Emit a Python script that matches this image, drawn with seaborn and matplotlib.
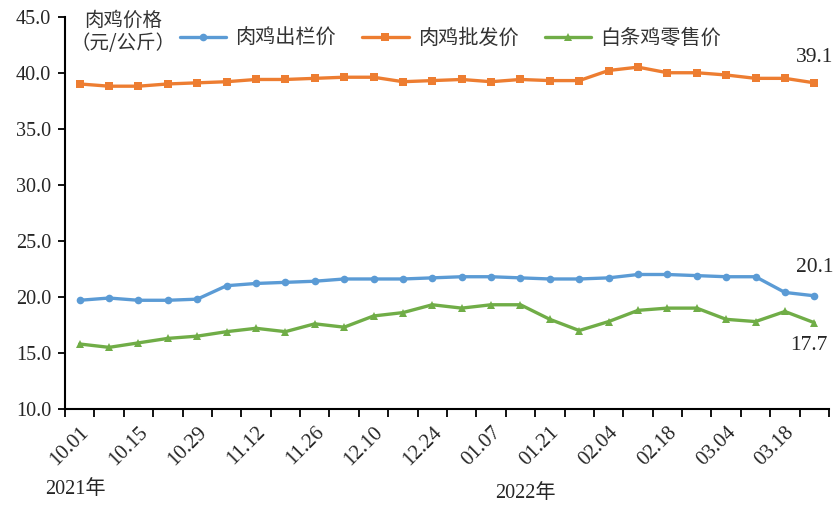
import matplotlib
matplotlib.use("Agg")
import matplotlib.pyplot as plt
import seaborn as sns
import numpy as np
import pandas as pd

dates = ["10.01", "10.08", "10.15", "10.22", "10.29", "11.05", "11.12", "11.19",
         "11.26", "12.03", "12.10", "12.17", "12.24", "12.31", "01.07", "01.14",
         "01.21", "01.28", "02.04", "02.11", "02.18", "02.25", "03.04", "03.11",
         "03.18", "03.25"]
chulan = [19.7, 19.9, 19.7, 19.7, 19.8, 21.0, 21.2, 21.3, 21.4, 21.6, 21.6, 21.6,
          21.7, 21.8, 21.8, 21.7, 21.6, 21.6, 21.7, 22.0, 22.0, 21.9, 21.8, 21.8,
          20.4, 20.1]
pifa = [39.0, 38.8, 38.8, 39.0, 39.1, 39.2, 39.4, 39.4, 39.5, 39.6, 39.6, 39.2,
        39.3, 39.4, 39.2, 39.4, 39.3, 39.3, 40.2, 40.5, 40.0, 40.0, 39.8, 39.5,
        39.5, 39.1]
lingshou = [15.8, 15.5, 15.9, 16.3, 16.5, 16.9, 17.2, 16.9, 17.6, 17.3, 18.3, 18.6,
            19.3, 19.0, 19.3, 19.3, 18.0, 17.0, 17.8, 18.8, 19.0, 19.0, 18.0, 17.8,
            18.7, 17.7]
series_names = ["肉鸡出栏价", "肉鸡批发价", "白条鸡零售价"]
colors = ["#5B9BD5", "#ED7D31", "#70AD47"]
markers = ["o", "s", "^"]
yticks = [10.0, 15.0, 20.0, 25.0, 30.0, 35.0, 40.0, 45.0]

sns.set_theme(style="ticks")
plt.rcParams["font.family"] = ["Liberation Serif", "Noto Sans CJK SC", "DejaVu Sans"]

fig = plt.figure(figsize=(8.37, 5.13), dpi=100)
ax = fig.add_axes([65 / 837, 1 - 409 / 513, (829 - 65) / 837, (409 - 16.7) / 513])

x = np.arange(len(dates))
for vals, name, c, m in zip([chulan, pifa, lingshou], series_names, colors, markers):
    sns.lineplot(x=x, y=vals, ax=ax, color=c, marker=m, markersize=5.5,
                 markeredgewidth=0, linewidth=2.4, label=name)

ax.set_xlim(-0.5, len(dates) - 0.5)
ax.set_ylim(10, 45)
ax.set_yticks(yticks)
ax.set_yticklabels([f"{v:.1f}" for v in yticks], fontsize=14.5,
                   family=["Liberation Serif"])
ax.set_xticks(x[::2])
ax.set_xticklabels(dates[::2], rotation=45, ha="right", rotation_mode="anchor",
                   fontsize=15, family=["Liberation Serif"])
ax.set_xticks(np.arange(-0.5, len(dates)), minor=True)
ax.tick_params(axis="x", which="major", length=0, pad=10)
ax.tick_params(axis="x", which="minor", length=6, width=1.3, color="black")
ax.tick_params(axis="y", length=5, width=1.3, color="black", pad=5)
for s in ["top", "right"]:
    ax.spines[s].set_visible(False)
for s in ["left", "bottom"]:
    ax.spines[s].set_color("black")
    ax.spines[s].set_linewidth(1.5)
ax.set_xlabel("")
ax.set_ylabel("")

ax.legend(loc="upper left", bbox_to_anchor=(162 / 837, 1 - 10 / 513),
          bbox_transform=fig.transFigure, ncol=3, frameon=False,
          prop={"family": "Noto Sans CJK SC", "size": 14.5, "weight": "light"},
          handlelength=2.3, handletextpad=0.45, columnspacing=1.3, labelcolor="#333333")

fig.text(123 / 837, 1 - 32 / 513, "肉鸡价格\n（元/公斤）", ha="center", va="center",
         fontsize=14, family=["Noto Sans CJK SC"], weight="light", color="#333333",
         linespacing=1.1)

ax.text(len(dates) - 1, 41.4, f"{pifa[-1]:.1f}", ha="center", va="center", fontsize=15.5)
ax.text(len(dates) - 1, 22.6, f"{chulan[-1]:.1f}", ha="center", va="center", fontsize=15.5)
ax.text(len(dates) - 1.2, 15.7, f"{lingshou[-1]:.1f}", ha="center", va="center", fontsize=15.5)

fig.text(75 / 837, 1 - 490 / 513, "2021年", ha="center", va="center", fontsize=14.5,
         family=["Liberation Serif", "Noto Sans CJK SC"])
fig.text(525 / 837, 1 - 493 / 513, "2022年", ha="center", va="center", fontsize=14.5,
         family=["Liberation Serif", "Noto Sans CJK SC"])

fig.savefig("out.png", dpi=100)
